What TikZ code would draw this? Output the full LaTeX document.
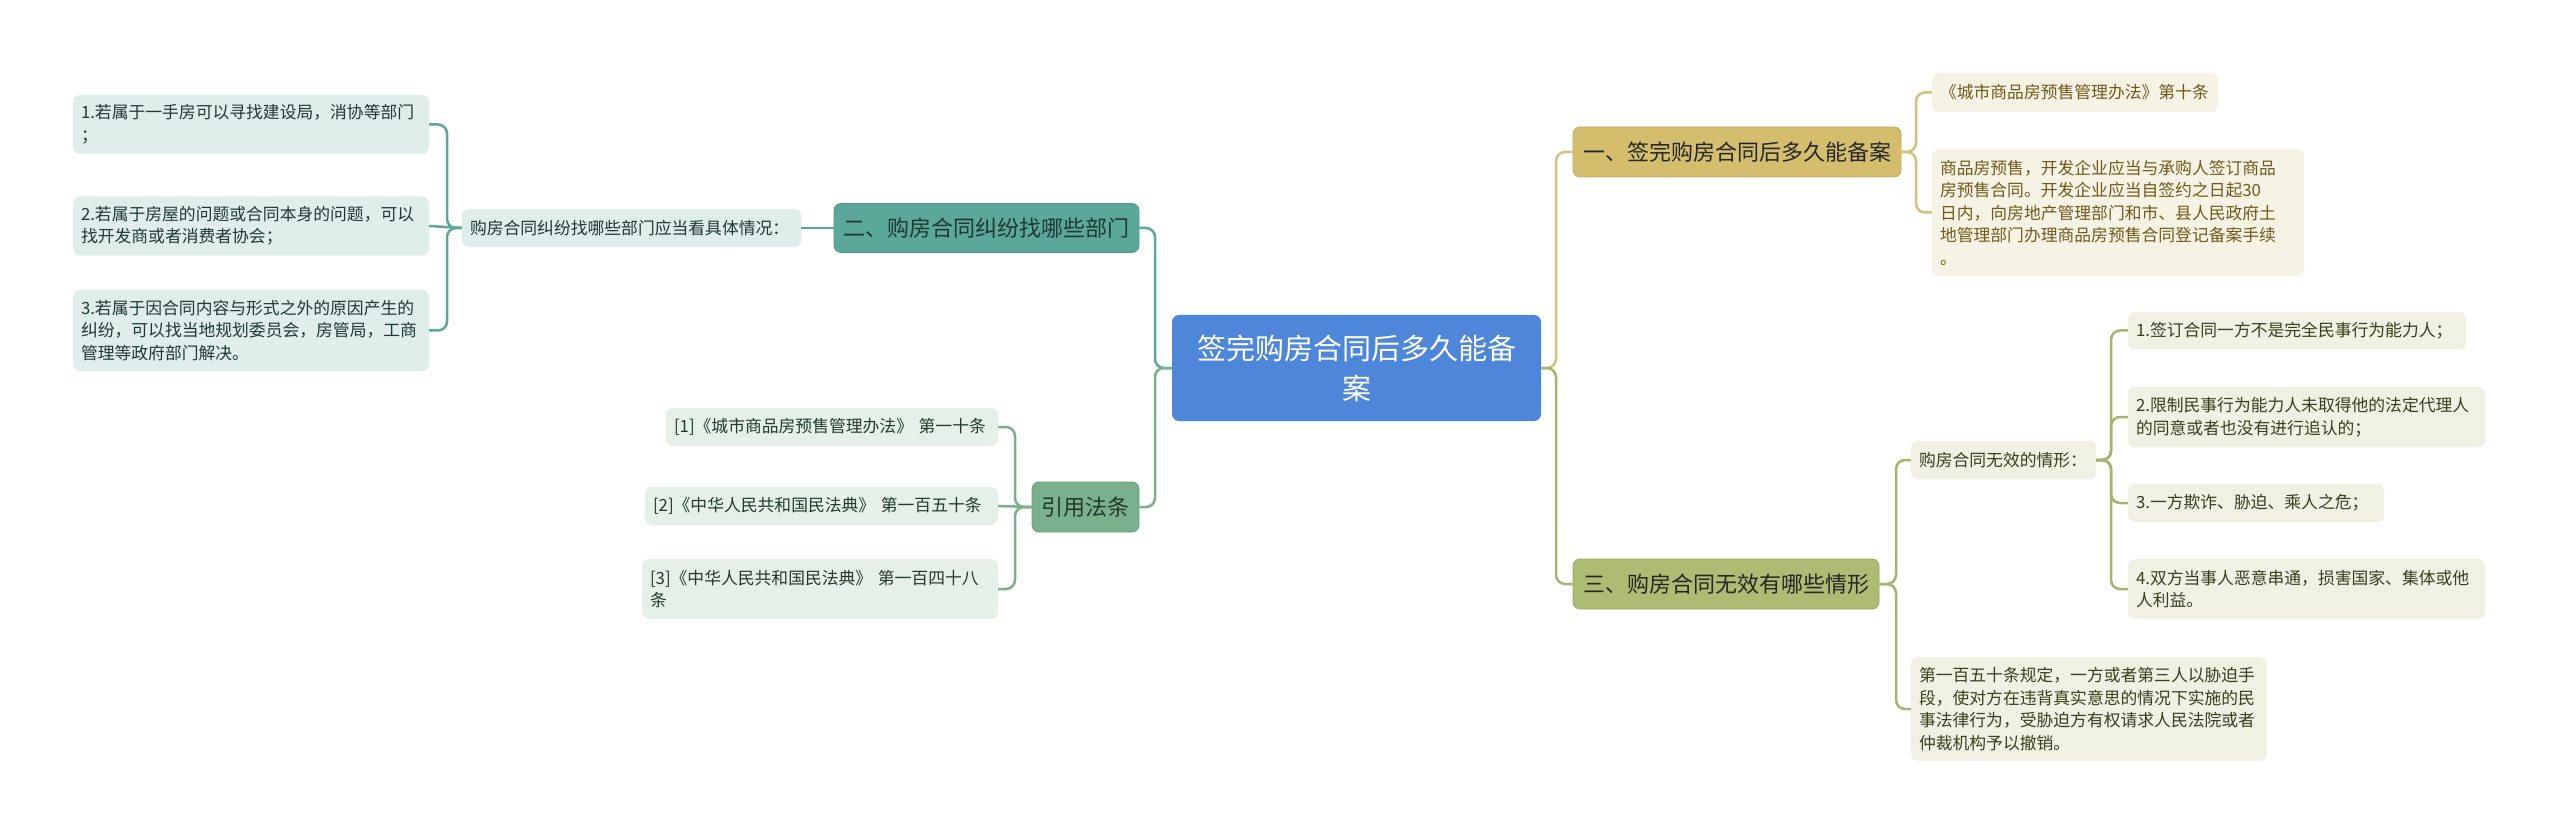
\documentclass[tikz,border=0pt]{standalone}
\usepackage{fontspec}
\newfontfamily\cjk{Noto Sans CJK SC}
\definecolor{cBlue}{HTML}{4E86D9}
\definecolor{cGold}{HTML}{D4BE6E}
\definecolor{cGoldLine}{HTML}{D5C17E}
\definecolor{cGoldLeaf}{HTML}{F7F3E4}
\definecolor{cGoldText}{HTML}{6E5A1C}
\definecolor{cTeal}{HTML}{5BA89B}
\definecolor{cTealLeaf}{HTML}{DFEEEB}
\definecolor{cTealText}{HTML}{1F3834}
\definecolor{cGrn}{HTML}{7AB08B}
\definecolor{cGrnLeaf}{HTML}{E5F0E8}
\definecolor{cGrnText}{HTML}{223A2A}
\definecolor{cOlive}{HTML}{AEBB72}
\definecolor{cOliveLine}{HTML}{A8B46E}
\definecolor{cOliveLeaf}{HTML}{F0F1E3}
\definecolor{cOliveText}{HTML}{3A3E1E}
\definecolor{cDark}{HTML}{262626}
\tikzset{
  mainbox/.style={rounded corners=7pt, inner sep=0pt, align=center, text=cDark,
    font={\cjk\fontsize{22}{28}\selectfont}},
  leafbox/.style={rounded corners=7pt, inner xsep=8pt, inner ysep=0pt, align=left,
    font={\cjk\fontsize{16.8}{22.5}\selectfont}},
  conn/.style={line width=2.5pt, rounded corners=9pt},
}
\begin{document}
\begin{tikzpicture}[x=1pt,y=-1pt]
\fill[white] (0,0) rectangle (2560,834);
\useasboundingbox (0,0) rectangle (2560,834);

% central
\node[mainbox, fill=cBlue, text=white, font={\cjk\fontsize{29}{40}\selectfont},
  minimum width=369pt, minimum height=106pt] (c) at (1356.5,368) {签完购房合同后多久能备\\案};

% right: branch 1
\node[mainbox, fill=cGold, draw=cGold!90!black, line width=0.8pt, minimum width=328pt, minimum height=50pt] (n1) at (1737,152) {一、签完购房合同后多久能备案};
\node[leafbox, fill=cGoldLeaf, text=cGoldText, text width=270pt, minimum height=39pt] (l1a) at (2075,92.5) {《城市商品房预售管理办法》第十条};
\node[leafbox, fill=cGoldLeaf, text=cGoldText, text width=356pt, minimum height=127pt] (l1b) at (2118,212.5) {商品房预售，开发企业应当与承购人签订商品\\房预售合同。开发企业应当自签约之日起30\\日内，向房地产管理部门和市、县人民政府土\\地管理部门办理商品房预售合同登记备案手续\\。};

% right: branch 3
\node[mainbox, fill=cOlive, draw=cOlive!90!black, line width=0.8pt, minimum width=306pt, minimum height=50pt] (n3) at (1726,584) {三、购房合同无效有哪些情形};
\node[leafbox, fill=cOliveLeaf, text=cOliveText, text width=169pt, minimum height=38pt] (s3) at (2003.5,460) {购房合同无效的情形：};
\node[leafbox, fill=cOliveLeaf, text=cOliveText, text width=322pt, minimum height=37pt] (l31) at (2297,330.5) {1.签订合同一方不是完全民事行为能力人；};
\node[leafbox, fill=cOliveLeaf, text=cOliveText, text width=341pt, minimum height=60pt] (l32) at (2306.5,417) {2.限制民事行为能力人未取得他的法定代理人\\的同意或者也没有进行追认的；};
\node[leafbox, fill=cOliveLeaf, text=cOliveText, text width=240pt, minimum height=38pt] (l33) at (2256,503) {3.一方欺诈、胁迫、乘人之危；};
\node[leafbox, fill=cOliveLeaf, text=cOliveText, text width=341pt, minimum height=60pt] (l34) at (2306.5,589) {4.双方当事人恶意串通，损害国家、集体或他\\人利益。};
\node[leafbox, fill=cOliveLeaf, text=cOliveText, text width=340pt, minimum height=104pt] (l35) at (2089,709) {第一百五十条规定，一方或者第三人以胁迫手\\段，使对方在违背真实意思的情况下实施的民\\事法律行为，受胁迫方有权请求人民法院或者\\仲裁机构予以撤销。};

% left: branch 2
\node[mainbox, fill=cTeal, draw=cTeal!90!black, line width=0.8pt, text=cTealText, minimum width=305pt, minimum height=49pt] (n2) at (986.5,228) {二、购房合同纠纷找哪些部门};
\node[leafbox, fill=cTealLeaf, text=cTealText, text width=323pt, minimum height=38pt] (s2) at (631.5,228) {购房合同纠纷找哪些部门应当看具体情况：};
\node[leafbox, fill=cTealLeaf, text=cTealText, text width=340pt, minimum height=59pt] (l21) at (251,124.5) {1.若属于一手房可以寻找建设局，消协等部门\\；};
\node[leafbox, fill=cTealLeaf, text=cTealText, text width=340pt, minimum height=59pt] (l22) at (251,226) {2.若属于房屋的问题或合同本身的问题，可以\\找开发商或者消费者协会；};
\node[leafbox, fill=cTealLeaf, text=cTealText, text width=340pt, minimum height=81pt] (l23) at (251,330.5) {3.若属于因合同内容与形式之外的原因产生的\\纠纷，可以找当地规划委员会，房管局，工商\\管理等政府部门解决。};

% left: references
\node[mainbox, fill=cGrn, draw=cGrn!90!black, line width=0.8pt, text=cGrnText, minimum width=107pt, minimum height=50pt] (n4) at (1085.5,507) {引用法条};
\node[leafbox, fill=cGrnLeaf, text=cGrnText, text width=316pt, minimum height=38pt] (r1) at (832,427) {[1]《城市商品房预售管理办法》 第一十条};
\node[leafbox, fill=cGrnLeaf, text=cGrnText, text width=337pt, minimum height=38pt] (r2) at (821.5,506) {[2]《中华人民共和国民法典》 第一百五十条};
\node[leafbox, fill=cGrnLeaf, text=cGrnText, text width=340pt, minimum height=60pt] (r3) at (820,589) {[3]《中华人民共和国民法典》 第一百四十八\\条};

% spine coordinates
\coordinate (sR) at (1556,368);
\coordinate (sL) at (1155,368);
\coordinate (p1) at (1916,152);
\coordinate (p3) at (1896,584);
\coordinate (p3b) at (2111,460);
\coordinate (p2) at (447,228);
\coordinate (p4) at (1015,507);

% connectors
\draw[conn, cGoldLine] (c.east) -- (sR) |- (n1.west);
\draw[conn, cOliveLine] (c.east) -- (sR) |- (n3.west);
\draw[conn, cTeal] (c.west) -- (sL) |- (n2.east);
\draw[conn, cGrn] (c.west) -- (sL) |- (n4.east);

\draw[conn, cGoldLine] (n1.east) -- (p1) |- (l1a.west);
\draw[conn, cGoldLine] (n1.east) -- (p1) |- (l1b.west);

\draw[conn, cOliveLine] (n3.east) -- (p3) |- (s3.west);
\draw[conn, cOliveLine] (n3.east) -- (p3) |- (l35.west);
\draw[conn, cOliveLine] (s3.east) -- (p3b) |- (l31.west);
\draw[conn, cOliveLine] (s3.east) -- (p3b) |- (l32.west);
\draw[conn, cOliveLine] (s3.east) -- (p3b) |- (l33.west);
\draw[conn, cOliveLine] (s3.east) -- (p3b) |- (l34.west);

\draw[conn, cTeal] (n2.west) -- (s2.east);
\draw[conn, cTeal] (s2.west) -- (p2) |- (l21.east);
\draw[conn, cTeal] (s2.west) -- (l22.east);
\draw[conn, cTeal] (s2.west) -- (p2) |- (l23.east);

\draw[conn, cGrn] (n4.west) -- (p4) |- (r1.east);
\draw[conn, cGrn] (n4.west) -- (r2.east);
\draw[conn, cGrn] (n4.west) -- (p4) |- (r3.east);
\end{tikzpicture}
\end{document}
